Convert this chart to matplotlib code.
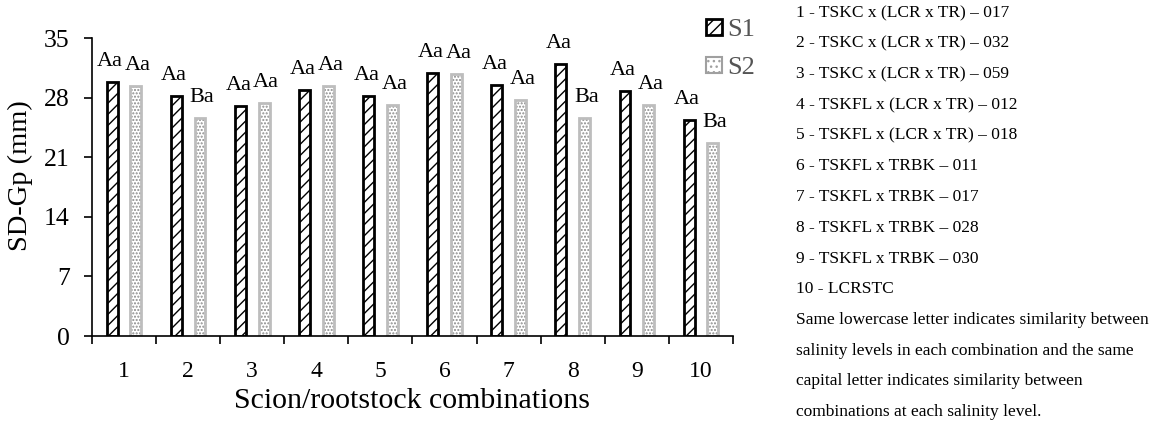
import numpy as np
import matplotlib
matplotlib.use("Agg")
import matplotlib.pyplot as plt
from matplotlib.patches import Patch
from matplotlib.ticker import FixedLocator

plt.rcParams['font.family'] = ['Liberation Serif', 'DejaVu Serif']
plt.rcParams['hatch.linewidth'] = 1.0

# data
combos = np.arange(1, 11)
s1 = [29.8, 28.2, 27.0, 28.9, 28.2, 30.9, 29.5, 32.0, 28.8, 25.4]
s2 = [29.4, 25.6, 27.4, 29.4, 27.1, 30.8, 27.7, 25.6, 27.1, 22.7]
letters_s1 = ["Aa"] * 10
letters_s2 = ["Aa", "Ba", "Aa", "Aa", "Aa", "Aa", "Aa", "Ba", "Aa", "Ba"]
series_names = ["S1", "S2"]
y_ticks = [0, 7, 14, 21, 28, 35]
notes = [
    "1 - TSKC x (LCR x TR) \u2013 017",
    "2 - TSKC x (LCR x TR) \u2013 032",
    "3 - TSKC x (LCR x TR) \u2013 059",
    "4 - TSKFL x (LCR x TR) \u2013 012",
    "5 - TSKFL x (LCR x TR) \u2013 018",
    "6 - TSKFL x TRBK \u2013 011",
    "7 - TSKFL x TRBK \u2013 017",
    "8 - TSKFL x TRBK \u2013 028",
    "9 - TSKFL x TRBK \u2013 030",
    "10 - LCRSTC",
    "Same lowercase letter indicates similarity between",
    "salinity levels in each combination and the same",
    "capital letter indicates similarity between",
    "combinations at each salinity level.",
]

fig = plt.figure(figsize=(11.53, 4.21), dpi=100)
ax = fig.add_axes([0.0798, 0.2019, 0.5559, 0.7078])

w = 0.17
off = 0.185
# S1: black outline, diagonal hatch
ax.bar(combos - off, s1, w, color='white', edgecolor='black', linewidth=2.0, hatch='///')
# S2: grey dotted fill, lighter grey outline
ax.bar(combos + off, s2, w, color='white', edgecolor='#8a8a8a', linewidth=0, hatch='.....')
ax.bar(combos + off, s2, w, fill=False, edgecolor='#bdbdbd', linewidth=2.0)

# letters above bars, nudged slightly outward so neighbours don't collide
for x, v, t in zip(combos - off, s1, letters_s1):
    ax.annotate(t, (x, v), xytext=(-1.5, 11.5), textcoords='offset points',
                ha='center', va='baseline', fontsize=16)
for x, v, t in zip(combos + off, s2, letters_s2):
    ax.annotate(t, (x, v), xytext=(1.5, 11.5), textcoords='offset points',
                ha='center', va='baseline', fontsize=16)

ax.set_xlim(0.5, 10.5)
ax.set_ylim(0, 35)
ax.set_yticks(y_ticks)
ax.set_xticks(combos)
ax.set_xticklabels([str(c) for c in combos])
ax.xaxis.set_minor_locator(FixedLocator(np.arange(0.5, 11, 1)))
ax.tick_params(axis='x', which='major', length=0, pad=18, labelsize=17)
ax.tick_params(axis='x', which='minor', length=6, width=1.2, direction='out')
ax.tick_params(axis='y', length=6, width=1.2, direction='out', pad=10, labelsize=18.5)
for side in ['top', 'right']:
    ax.spines[side].set_visible(False)
for side in ['left', 'bottom']:
    ax.spines[side].set_linewidth(1.2)

ax.set_ylabel("SD-Gp (mm)", fontsize=20.5)
ax.yaxis.set_label_coords(-0.092, 0.537)
ax.set_xlabel("Scion/rootstock combinations", fontsize=21.5, labelpad=4)

handles = [
    Patch(facecolor='white', edgecolor='black', linewidth=2.0, hatch='///'),
    Patch(facecolor='white', edgecolor='#a0a0a0', linewidth=1.5, hatch='...'),
]
leg = fig.legend(handles, series_names, loc='upper left', bbox_to_anchor=(0.5915, 1.012),
                 frameon=False, fontsize=19, handlelength=0.6, handleheight=0.55,
                 handletextpad=0.2, labelspacing=0.6)
for txt in leg.get_texts():
    txt.set_color('#555555')

for i, line in enumerate(notes):
    fig.text(796 / 1153, 1 - (13 + i * 30.7) / 421, line, fontsize=12.5,
             va='center', ha='left')

fig.savefig("out.png", dpi=100)
